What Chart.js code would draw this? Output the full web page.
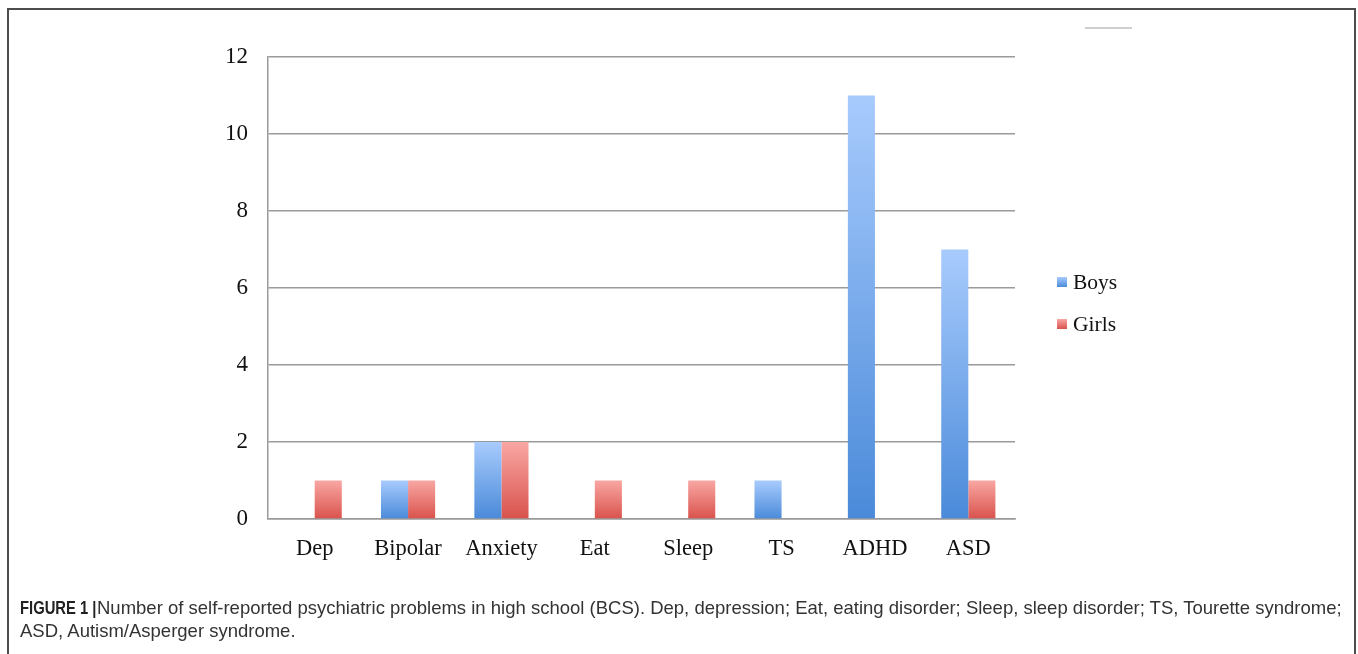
<!DOCTYPE html>
<html>
<head>
<meta charset="utf-8">
<script src="https://cdn.jsdelivr.net/npm/chart.js@4.4.1/dist/chart.umd.min.js"></script>
<style>
  html, body { margin: 0; padding: 0; background: #fff; }
  body { width: 1358px; height: 654px; position: relative; overflow: hidden; }
  #frame {
    position: absolute; left: 7px; top: 8px; width: 1349px; height: 700px;
    border: 2px solid #4d4d4d; box-sizing: border-box; border-bottom: none;
  }
  #chartWrap { position: absolute; left: 0; top: 0; width: 1358px; height: 600px; }
  #legend { position: absolute; left: 1057px; top: 268px; font-family: "Liberation Serif", serif; font-size: 21.5px; color: #111; }
  .li { position: relative; height: 42px; line-height: 28px; }
  .li .sw { position: absolute; left: 0; top: 9px; width: 10px; height: 10px; }
  .li .tx { position: absolute; left: 16px; top: 0; white-space: nowrap; }
  #caption {
    position: absolute; left: 20px; top: 596px; font-family: "Liberation Sans", Arial, sans-serif;
    font-size: 18.5px; line-height: 23px; color: #333; white-space: nowrap;
  }
  #caption .lead {
    display: inline-block; font-weight: bold; color: #222; width: 77px;
    transform: scaleX(0.8); transform-origin: left center;
  }
  #mark { position: absolute; left: 1085px; top: 27px; width: 47px; height: 2px; background: #cfcfcf; }
</style>
</head>
<body>
<div id="frame"></div>
<div id="mark"></div>
<div id="chartWrap"><canvas id="c" width="1358" height="600"></canvas></div>
<div id="legend"></div>
<div id="caption"><span class="lead">FIGURE 1 |</span>Number of self-reported psychiatric problems in high school (BCS). Dep, depression; Eat, eating disorder; Sleep, sleep disorder; TS, Tourette syndrome;<br>ASD, Autism/Asperger syndrome.</div>
<script>
// Problem categories and counts per group
const categories = ["Dep", "Bipolar", "Anxiety", "Eat", "Sleep", "TS", "ADHD", "ASD"];
const boys = [0, 1, 2, 0, 0, 1, 11, 7];
const girls = [1, 1, 2, 1, 1, 0, 0, 1];
const seriesNames = ["Boys", "Girls"];
const yTicks = [0, 2, 4, 6, 8, 10, 12];

// top/bottom colours of each series' vertical gradient
const shades = {
  Boys: ["#a8cbfd", "#4a8ad9"],
  Girls: ["#f9a7a3", "#d9524c"]
};

function barGradient(name) {
  return function (ctx) {
    const chart = ctx.chart;
    const y = chart.scales.y;
    if (!y || ctx.raw === undefined) return shades[name][1];
    const top = y.getPixelForValue(ctx.raw);
    const base = y.getPixelForValue(0);
    if (!isFinite(top) || !isFinite(base) || top === base) return shades[name][1];
    const g = chart.ctx.createLinearGradient(0, top, 0, base);
    g.addColorStop(0, shades[name][0]);
    g.addColorStop(1, shades[name][1]);
    return g;
  };
}

const serif = "'Liberation Serif', 'Times New Roman', serif";

new Chart(document.getElementById("c"), {
  type: "bar",
  data: {
    labels: categories,
    datasets: [
      { label: seriesNames[0], data: boys, backgroundColor: barGradient("Boys") },
      { label: seriesNames[1], data: girls, backgroundColor: barGradient("Girls") }
    ]
  },
  options: {
    responsive: false,
    animation: false,
    devicePixelRatio: 1,
    layout: { padding: { left: 188, right: 343, top: 57, bottom: 21 } },
    datasets: { bar: { categoryPercentage: 0.58, barPercentage: 1.0, borderWidth: 0 } },
    plugins: { legend: { display: false }, tooltip: { enabled: false } },
    scales: {
      x: {
        grid: { display: false, drawTicks: false },
        border: { display: true, color: "#9a9a9a", width: 1.5 },
        ticks: { color: "#111", font: { family: serif, size: 22.5 }, padding: 17, maxRotation: 0 },
        afterFit: s => { s.height = 60; }
      },
      y: {
        min: 0, max: 12,
        afterBuildTicks: s => { s.ticks = yTicks.map(v => ({ value: v })); },
        grid: { color: "#9a9a9a", lineWidth: 1.5, drawTicks: false },
        border: { display: true, color: "#9a9a9a", width: 1.5 },
        ticks: { color: "#111", font: { family: serif, size: 23 }, padding: 20 },
        afterFit: s => { s.width = 80; }
      }
    }
  }
});

// Legend built from the series names and their colours
const legend = document.getElementById("legend");
seriesNames.forEach(name => {
  const row = document.createElement("div");
  row.className = "li";
  const sw = document.createElement("span");
  sw.className = "sw";
  sw.style.background = "linear-gradient(" + shades[name][0] + "," + shades[name][1] + ")";
  const tx = document.createElement("span");
  tx.className = "tx";
  tx.textContent = name;
  row.appendChild(sw);
  row.appendChild(tx);
  legend.appendChild(row);
});
</script>
</body>
</html>
